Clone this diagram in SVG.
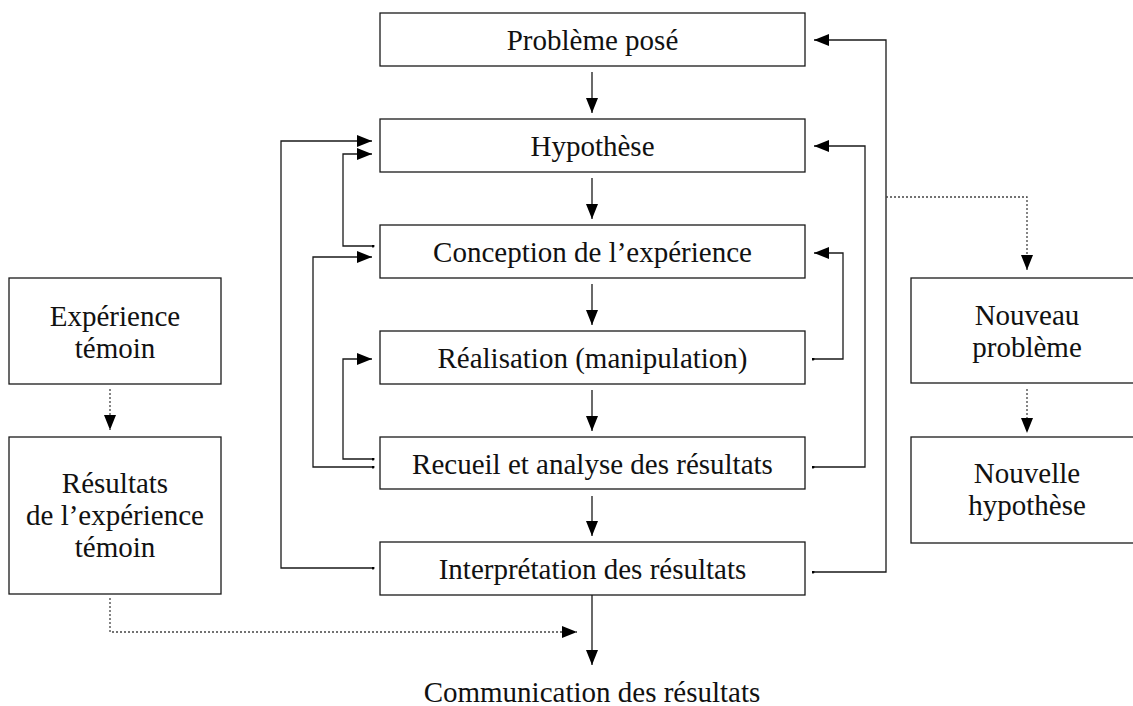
<svg xmlns="http://www.w3.org/2000/svg" width="1133" height="706" viewBox="0 0 1133 706">
<style>
.box{fill:#fff;stroke:#1a1a1a;stroke-width:1.3}
.t{font-family:"Liberation Serif","Times New Roman",serif;font-size:29px;fill:#111;text-anchor:middle}
.c{fill:none;stroke:#1a1a1a;stroke-width:1.3}
.d{fill:none;stroke:#444;stroke-width:1.3;stroke-dasharray:2,2}
</style>
<defs>
<marker id="ah" viewBox="0 0 15 12" refX="15" refY="6" markerWidth="15" markerHeight="12" markerUnits="userSpaceOnUse" orient="auto">
<path d="M0,0 L15,6 L0,12 Z" fill="#000"/>
</marker>
<marker id="dot" viewBox="0 0 4 4" refX="2" refY="2" markerWidth="3" markerHeight="3" markerUnits="userSpaceOnUse">
<circle cx="2" cy="2" r="2" fill="#000"/>
</marker>
</defs>
<rect width="1133" height="706" fill="#fff"/>

<g id="connectors">
<line class="c" x1="592" y1="72" x2="592" y2="113" marker-end="url(#ah)"/>
<line class="c" x1="592" y1="178" x2="592" y2="219" marker-end="url(#ah)"/>
<line class="c" x1="592" y1="284" x2="592" y2="325" marker-end="url(#ah)"/>
<line class="c" x1="592" y1="390" x2="592" y2="431" marker-end="url(#ah)"/>
<line class="c" x1="592" y1="496" x2="592" y2="536" marker-end="url(#ah)"/>
<line class="c" x1="592" y1="595" x2="592" y2="665" marker-end="url(#ah)"/>
<path class="c" d="M373,568 H281 V141 H372" marker-start="url(#dot)" marker-end="url(#ah)"/>
<path class="c" d="M373,246 H343 V154 H372" marker-start="url(#dot)" marker-end="url(#ah)"/>
<path class="c" d="M373,467 H313 V257 H372" marker-start="url(#dot)" marker-end="url(#ah)"/>
<path class="c" d="M373,459 H343 V359 H372" marker-start="url(#dot)" marker-end="url(#ah)"/>
<path class="c" d="M813,359 H843 V253 H814" marker-start="url(#dot)" marker-end="url(#ah)"/>
<path class="c" d="M813,467 H865 V146 H814" marker-start="url(#dot)" marker-end="url(#ah)"/>
<path class="c" d="M813,572 H886 V40 H814" marker-start="url(#dot)" marker-end="url(#ah)"/>
<path class="d" d="M886,197 H1027 V270" marker-end="url(#ah)"/>
<line class="d" x1="1027" y1="389" x2="1027" y2="433" marker-end="url(#ah)"/>
<line class="d" x1="110" y1="389" x2="110" y2="430" marker-end="url(#ah)"/>
<path class="d" d="M110,598 V632 H577" marker-end="url(#ah)"/>
</g>

<g id="n-probleme"><rect class="box" x="380" y="13" width="425" height="53"/><text class="t" x="592.5" y="50">Problème posé</text></g>
<g id="n-hypothese"><rect class="box" x="380" y="119" width="425" height="53"/><text class="t" x="592.5" y="156">Hypothèse</text></g>
<g id="n-conception"><rect class="box" x="380" y="225" width="425" height="53"/><text class="t" x="592.5" y="262">Conception de l’expérience</text></g>
<g id="n-realisation"><rect class="box" x="380" y="331" width="425" height="53"/><text class="t" x="592.5" y="368">Réalisation (manipulation)</text></g>
<g id="n-recueil"><rect class="box" x="380" y="437" width="425" height="52"/><text class="t" x="592.5" y="474">Recueil et analyse des résultats</text></g>
<g id="n-interpretation"><rect class="box" x="380" y="542" width="425" height="53"/><text class="t" x="592.5" y="579">Interprétation des résultats</text></g>
<g id="n-communication"><text class="t" x="592" y="702">Communication des résultats</text></g>

<g id="n-temoin"><rect class="box" x="9" y="278" width="212" height="106"/><text class="t" x="115" y="326">Expérience</text><text class="t" x="115" y="358">témoin</text></g>
<g id="n-resultats-temoin"><rect class="box" x="9" y="437" width="212" height="157"/><text class="t" x="115" y="493">Résultats</text><text class="t" x="115" y="525">de l’expérience</text><text class="t" x="115" y="557">témoin</text></g>

<g id="n-nouveau-probleme"><rect class="box" x="911" y="278" width="232" height="105"/><text class="t" x="1027" y="325">Nouveau</text><text class="t" x="1027" y="357">problème</text></g>
<g id="n-nouvelle-hypothese"><rect class="box" x="911" y="437" width="232" height="106"/><text class="t" x="1027" y="483">Nouvelle</text><text class="t" x="1027" y="515">hypothèse</text></g>
</svg>
